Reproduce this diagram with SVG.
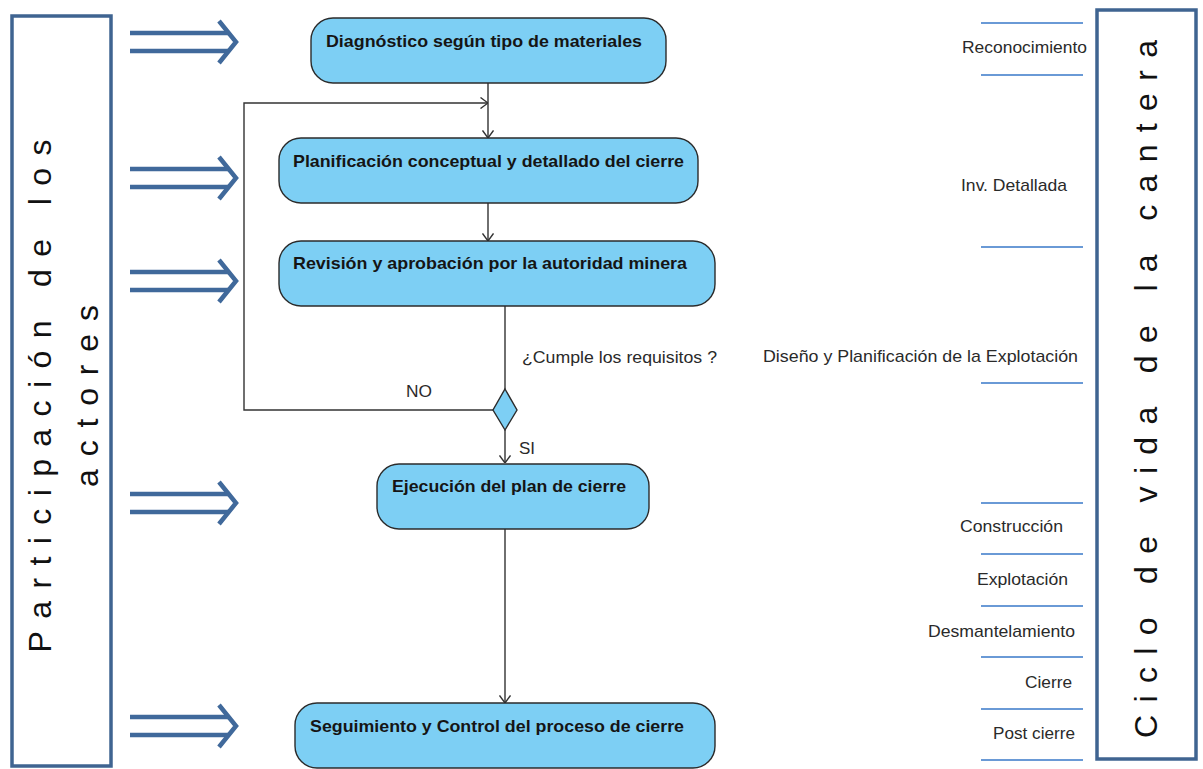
<svg xmlns="http://www.w3.org/2000/svg" xmlns:xlink="http://www.w3.org/1999/xlink" width="1203" height="769" viewBox="0 0 1203 769">
  <style>
    .frame { fill: #ffffff; stroke: #3f6491; stroke-width: 3.5; }
    .big { font-family: "Liberation Sans", Arial, sans-serif; font-size: 32px; fill: #111111; }
    .node rect { fill: #7dcff4; stroke: #2b2b2b; stroke-width: 1.4; }
    .node text { font-family: "Liberation Sans", Arial, sans-serif; font-size: 17px; font-weight: bold; fill: #151515; }
    .lbl { font-family: "Liberation Sans", Arial, sans-serif; font-size: 17px; fill: #2a2a2a; }
    .phase { stroke: #6a9ad6; stroke-width: 1.8; }
    .conn { fill: none; stroke: #333333; stroke-width: 1.4; }
    .dbl { fill: none; stroke: #40699b; stroke-width: 4.5; stroke-linejoin: miter; }
  </style>
  <defs>
    <marker id="open" viewBox="0 0 8 12" refX="8" refY="6" markerWidth="8" markerHeight="12" markerUnits="userSpaceOnUse" orient="auto">
      <path d="M0.5,0.5 L8,6 L0.5,11.5" fill="none" stroke="#333333" stroke-width="1.4"/>
    </marker>
    <!-- hollow double-line arrow pointing right, centred on y=0 -->
    <g id="dblArrow" class="dbl">
      <line x1="130" y1="-9" x2="229" y2="-9"/>
      <line x1="130" y1="9" x2="229" y2="9"/>
      <polyline points="219,-21 236,0 219,21"/>
    </g>
  </defs>

  <rect width="1203" height="769" fill="#ffffff"/>

  <!-- left column: actors -->
  <g id="actores">
    <rect class="frame" x="12" y="16" width="99" height="750"/>
    <text class="big" transform="translate(51,396) rotate(-90)" text-anchor="middle" textLength="513" lengthAdjust="spacing">Participación de los</text>
    <text class="big" transform="translate(98,396) rotate(-90)" text-anchor="middle" textLength="182" lengthAdjust="spacing">actores</text>
  </g>

  <!-- participation arrows -->
  <g id="participacion">
    <use xlink:href="#dblArrow" transform="translate(0,42)"/>
    <use xlink:href="#dblArrow" transform="translate(0,178)"/>
    <use xlink:href="#dblArrow" transform="translate(0,281)"/>
    <use xlink:href="#dblArrow" transform="translate(0,503)"/>
    <use xlink:href="#dblArrow" transform="translate(0,726)"/>
  </g>

  <!-- connectors -->
  <g id="connectors">
    <path class="conn" d="M488,83 V138" marker-end="url(#open)"/>
    <path class="conn" d="M493,410 H244 V103 H488" marker-end="url(#open)"/>
    <path class="conn" d="M488,203 V241" marker-end="url(#open)"/>
    <path class="conn" d="M505,306 V389"/>
    <path class="conn" d="M505,430 V463" marker-end="url(#open)"/>
    <path class="conn" d="M505,529 V703" marker-end="url(#open)"/>
    <text class="lbl" x="522" y="363" textLength="195" lengthAdjust="spacingAndGlyphs">¿Cumple los requisitos ?</text>
    <text class="lbl" x="406" y="397" textLength="26" lengthAdjust="spacingAndGlyphs">NO</text>
    <text class="lbl" x="519" y="454">SI</text>
  </g>

  <!-- process steps -->
  <g id="diagnostico" class="node">
    <rect x="311" y="18" width="355" height="65" rx="22" ry="22"/>
    <text x="326" y="47" textLength="316" lengthAdjust="spacingAndGlyphs">Diagnóstico según tipo de materiales</text>
  </g>
  <g id="planificacion" class="node">
    <rect x="279" y="138" width="419" height="65" rx="22" ry="22"/>
    <text x="293" y="167" textLength="391" lengthAdjust="spacingAndGlyphs">Planificación conceptual y detallado del cierre</text>
  </g>
  <g id="revision" class="node">
    <rect x="279" y="241" width="436" height="65" rx="22" ry="22"/>
    <text x="293" y="269" textLength="394" lengthAdjust="spacingAndGlyphs">Revisión y aprobación por la autoridad minera</text>
  </g>
  <g id="decision" class="node">
    <polygon points="505,389 517,410 505,430 493,410" fill="#7dcff4" stroke="#2b2b2b" stroke-width="1.4"/>
  </g>
  <g id="ejecucion" class="node">
    <rect x="377" y="464" width="272" height="65" rx="22" ry="22"/>
    <text x="392" y="492" textLength="234" lengthAdjust="spacingAndGlyphs">Ejecución del plan de cierre</text>
  </g>
  <g id="seguimiento" class="node">
    <rect x="295" y="703" width="420" height="65" rx="22" ry="22"/>
    <text x="310" y="732" textLength="374" lengthAdjust="spacingAndGlyphs">Seguimiento y Control del proceso de cierre</text>
  </g>

  <!-- quarry life-cycle phases -->
  <g id="fases">
    <line class="phase" x1="981" y1="23" x2="1083" y2="23"/>
    <line class="phase" x1="981" y1="75" x2="1083" y2="75"/>
    <line class="phase" x1="981" y1="247" x2="1083" y2="247"/>
    <line class="phase" x1="981" y1="383" x2="1083" y2="383"/>
    <line class="phase" x1="981" y1="503" x2="1083" y2="503"/>
    <line class="phase" x1="981" y1="554" x2="1083" y2="554"/>
    <line class="phase" x1="981" y1="606" x2="1083" y2="606"/>
    <line class="phase" x1="981" y1="657" x2="1083" y2="657"/>
    <line class="phase" x1="981" y1="709" x2="1083" y2="709"/>
    <line class="phase" x1="981" y1="760" x2="1083" y2="760"/>
    <text class="lbl" x="962" y="53" textLength="125" lengthAdjust="spacingAndGlyphs">Reconocimiento</text>
    <text class="lbl" x="961" y="191" textLength="106" lengthAdjust="spacingAndGlyphs">Inv. Detallada</text>
    <text class="lbl" x="763" y="362" textLength="315" lengthAdjust="spacingAndGlyphs">Diseño y Planificación de la Explotación</text>
    <text class="lbl" x="960" y="532" textLength="103" lengthAdjust="spacingAndGlyphs">Construcción</text>
    <text class="lbl" x="977" y="585" textLength="91" lengthAdjust="spacingAndGlyphs">Explotación</text>
    <text class="lbl" x="928" y="637" textLength="147" lengthAdjust="spacingAndGlyphs">Desmantelamiento</text>
    <text class="lbl" x="1025" y="688" textLength="47" lengthAdjust="spacingAndGlyphs">Cierre</text>
    <text class="lbl" x="993" y="739" textLength="82" lengthAdjust="spacingAndGlyphs">Post cierre</text>
  </g>

  <!-- right column: quarry life cycle -->
  <g id="ciclo">
    <rect class="frame" x="1097" y="10" width="99" height="749"/>
    <text class="big" transform="translate(1157,389) rotate(-90)" text-anchor="middle" textLength="698" lengthAdjust="spacing">Ciclo de vida de la cantera</text>
  </g>
</svg>
